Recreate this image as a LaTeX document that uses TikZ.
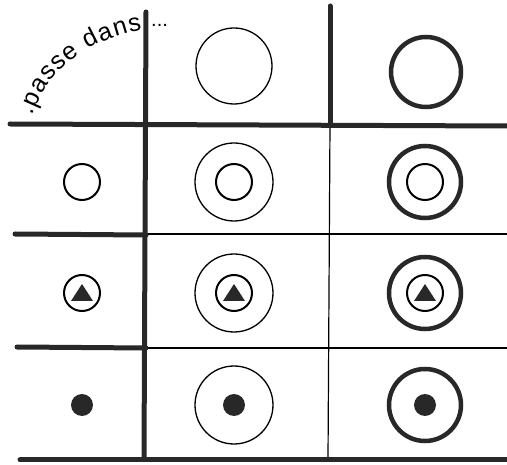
\documentclass[tikz,border=0pt]{standalone}
\usepackage{fontspec}
\setmainfont{Liberation Sans}
\usetikzlibrary{decorations.text,calc}
\definecolor{PenGray}{RGB}{40,40,40}

\begin{document}
\begin{tikzpicture}[x=1pt,y=-1pt,heavy/.style={draw=PenGray,line width=5pt,line cap=round},light/.style={draw=black,line width=1.2pt},ring/.style={draw=black,line width=1.3pt},boldring/.style={draw=PenGray,line width=4.5pt},small/.style={draw=black,line width=2pt},dot/.style={fill=PenGray}]
\useasboundingbox (0,0) rectangle (507,465);
% thin grid lines
\draw[light](330,124)--(328,460);
\draw[light](146,234)--(507,234);
\draw[light](146,348)--(507,348);
% thick grid lines
\draw[heavy](146,12)--(144,459);
\draw[heavy](330,6)--(330,124);
\draw[heavy](10,124)--(507,126);
\draw[heavy](15,234)--(146,235);
\draw[heavy](17,347)--(146,348);
\draw[heavy](20,460)--(507,460);
% label on the curve
\path[decorate,decoration={text along path,text={|\fontsize{25}{25}\selectfont|.passe dans},text align=fit to path}](33,116) .. controls (44,74) and (85,40) .. (142,30);
\node[font=\fontsize{20}{20}\selectfont,anchor=base west,inner sep=0pt] (dots) at (151,27) {...};
% cell centres
\foreach \c/\x in {0/82,1/234,2/425}{\foreach \r/\y in {0/66,1/182,2/293,3/405}{\coordinate (c\c\r) at (\x,\y);}}
% header row
\draw[ring](c10) circle (38);
\draw[boldring](426,72) circle (35);
% outer rings
\foreach \r in {1,2,3}{\draw[ring](c1\r) circle (39);\draw[boldring](c2\r) circle (36);}
% inner circles
\foreach \c in {0,1,2}{\draw[small](c\c1) circle (18);\draw[small](c\c2) circle (18);\fill[dot](c\c3) circle (11);\fill[dot]($(c\c2)+(0,-9)$)--($(c\c2)+(11,8)$)--($(c\c2)+(-11,8)$)--cycle;}
\end{tikzpicture}
\end{document}
